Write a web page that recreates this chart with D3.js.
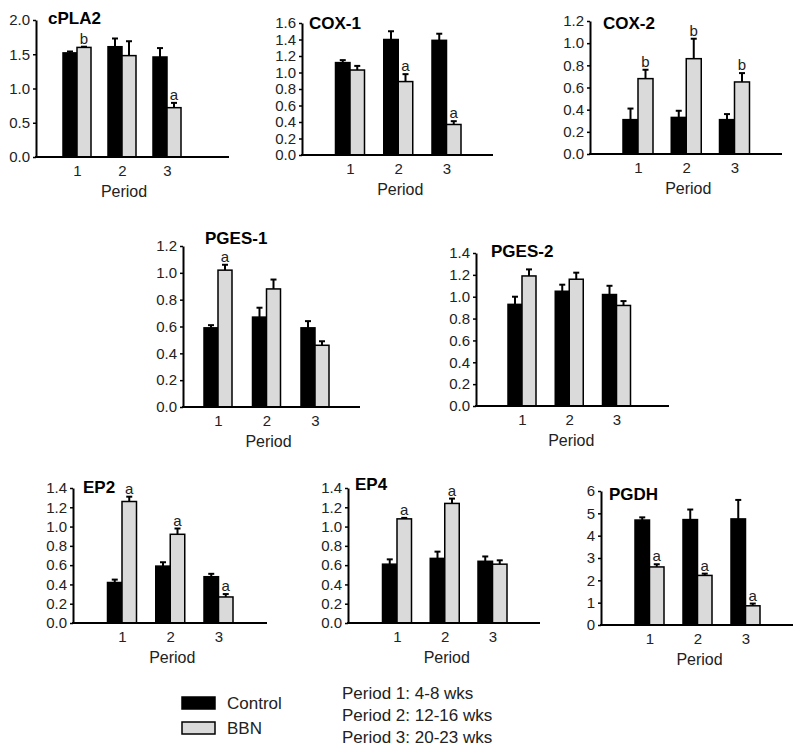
<!DOCTYPE html>
<html><head><meta charset="utf-8">
<script src="https://cdn.jsdelivr.net/npm/d3@7/dist/d3.min.js"></script>
<style>body{margin:0;background:#fff}svg{display:block}</style>
</head><body>
<svg id="c" width="800" height="752"></svg>
<script>
// ---------- data ----------
const periods = ["1", "2", "3"];
const panelNames = ["cPLA2", "COX-1", "COX-2", "PGES-1", "PGES-2", "EP2", "EP4", "PGDH"];
const controlMeans = [
  [1.52, 1.61, 1.46], [1.12, 1.40, 1.39], [0.31, 0.33, 0.31], [0.59, 0.67, 0.59],
  [0.93, 1.05, 1.02], [0.42, 0.59, 0.48], [0.61, 0.67, 0.64], [4.70, 4.72, 4.75]
];
const controlErr = [
  [0.02, 0.12, 0.13], [0.03, 0.10, 0.08], [0.10, 0.06, 0.05], [0.02, 0.07, 0.05],
  [0.07, 0.06, 0.08], [0.03, 0.04, 0.03], [0.05, 0.07, 0.05], [0.12, 0.45, 0.85]
];
const bbnMeans = [
  [1.60, 1.48, 0.72], [1.03, 0.89, 0.37], [0.68, 0.86, 0.65], [1.02, 0.88, 0.46],
  [1.19, 1.16, 0.92], [1.26, 0.92, 0.27], [1.08, 1.24, 0.61], [2.60, 2.22, 0.86]
];
const bbnErr = [
  [0.01, 0.21, 0.07], [0.05, 0.09, 0.04], [0.08, 0.18, 0.08], [0.04, 0.07, 0.03],
  [0.06, 0.06, 0.04], [0.05, 0.06, 0.03], [0.01, 0.05, 0.04], [0.12, 0.08, 0.10]
];
const bbnLetters = [
  ["b", "", "a"], ["", "a", "a"], ["b", "b", "b"], ["a", "", ""],
  ["", "", ""], ["a", "a", "a"], ["a", "a", ""], ["a", "a", "a"]
];
const yTicks = [
  [0, 0.5, 1.0, 1.5, 2.0],
  [0, 0.2, 0.4, 0.6, 0.8, 1.0, 1.2, 1.4, 1.6],
  [0, 0.2, 0.4, 0.6, 0.8, 1.0, 1.2],
  [0, 0.2, 0.4, 0.6, 0.8, 1.0, 1.2],
  [0, 0.2, 0.4, 0.6, 0.8, 1.0, 1.2, 1.4],
  [0, 0.2, 0.4, 0.6, 0.8, 1.0, 1.2, 1.4],
  [0, 0.2, 0.4, 0.6, 0.8, 1.0, 1.2, 1.4],
  [0, 1, 2, 3, 4, 5, 6]
];
const tickFormats = [".1f", ".1f", ".1f", ".1f", ".1f", ".1f", ".1f", "d"];
const seriesNames = ["Control", "BBN"];
const periodNotes = ["Period 1: 4-8 wks", "Period 2: 12-16 wks", "Period 3: 20-23 wks"];
const xTitle = "Period";

// ---------- layout (pixels) ----------
const layout = [
  {left: 36,  right: 229, y0: 157, yTop: 20,  c1: 77,  c3: 167,   bw: 14,   tx: 48,  ty: 24},
  {left: 302, right: 493, y0: 155, yTop: 23,  c1: 350, c3: 446.5, bw: 14.5, tx: 309, ty: 29},
  {left: 590, right: 782, y0: 154, yTop: 21,  c1: 638, c3: 734.5, bw: 15,   tx: 603, ty: 29},
  {left: 183, right: 360, y0: 407, yTop: 246, c1: 218, c3: 315,   bw: 14,   tx: 205, ty: 244},
  {left: 476, right: 669, y0: 406, yTop: 253, c1: 522, c3: 616.5, bw: 14,   tx: 491, ty: 257},
  {left: 73,  right: 267, y0: 623, yTop: 488, c1: 122, c3: 218.5, bw: 14.5, tx: 83,  ty: 493},
  {left: 348, right: 540, y0: 623, yTop: 488, c1: 397, c3: 492.5, bw: 14.5, tx: 355, ty: 490},
  {left: 601, right: 793, y0: 625, yTop: 491, c1: 649.5, c3: 745.5, bw: 14.5, tx: 609, ty: 500}
];
const BBN_FILL = "#dadada";
const FONT = "Liberation Sans, Arial, sans-serif";

const svg = d3.select("#c").style("font-family", FONT);

panelNames.forEach((name, i) => {
  const L = layout[i];
  const ticks = yTicks[i];
  const y = d3.scaleLinear().domain([0, ticks[ticks.length - 1]]).range([L.y0, L.yTop]);
  const x = d3.scalePoint().domain(periods).range([L.c1, L.c3]);
  const g = svg.append("g");

  const rows = periods.map((p, k) => ({p, c: controlMeans[i][k], ce: controlErr[i][k],
    b: bbnMeans[i][k], be: bbnErr[i][k], let: bbnLetters[i][k]}));

  const eb = (cx, v, e) => {
    g.append("line").attr("x1", cx).attr("x2", cx).attr("y1", y(v)).attr("y2", y(v + e))
      .attr("stroke", "#000").attr("stroke-width", 2);
    g.append("line").attr("x1", cx - 3).attr("x2", cx + 3).attr("y1", y(v + e)).attr("y2", y(v + e))
      .attr("stroke", "#000").attr("stroke-width", 2);
  };
  rows.forEach(r => {
    eb(x(r.p) - L.bw / 2, r.c, r.ce);
    eb(x(r.p) + L.bw / 2, r.b, r.be);
  });

  g.selectAll("rect.c").data(rows).join("rect")
    .attr("x", d => x(d.p) - L.bw).attr("width", L.bw)
    .attr("y", d => y(d.c)).attr("height", d => y(0) - y(d.c))
    .attr("fill", "#000").attr("stroke", "#000").attr("stroke-width", 1.5);
  g.selectAll("rect.b").data(rows).join("rect")
    .attr("x", d => x(d.p)).attr("width", L.bw)
    .attr("y", d => y(d.b)).attr("height", d => y(0) - y(d.b))
    .attr("fill", BBN_FILL).attr("stroke", "#000").attr("stroke-width", 1.5);

  g.selectAll("text.sig").data(rows.filter(r => r.let)).join("text")
    .attr("x", d => x(d.p) + L.bw / 2).attr("y", d => y(d.b + d.be) - 3)
    .attr("text-anchor", "middle").attr("font-size", 15).attr("fill", "#222")
    .text(d => d.let);

  const ya = g.append("g").attr("transform", `translate(${L.left},0)`)
    .call(d3.axisLeft(y).tickValues(ticks).tickFormat(d3.format(tickFormats[i]))
      .tickSize(3).tickSizeOuter(0).tickPadding(3));
  ya.select(".domain").attr("stroke-width", 2);
  ya.selectAll(".tick line").attr("stroke-width", 1.5);
  ya.selectAll("text").attr("font-size", 15).attr("font-family", FONT).attr("fill", "#222");

  g.append("line").attr("x1", L.left - 1).attr("x2", L.right).attr("y1", L.y0).attr("y2", L.y0)
    .attr("stroke", "#000").attr("stroke-width", 2);
  const xa = g.append("g").attr("transform", `translate(0,${L.y0})`)
    .call(d3.axisBottom(x).tickSize(0).tickPadding(8));
  xa.select(".domain").remove();
  xa.selectAll("text").attr("font-size", 15).attr("font-family", FONT).attr("fill", "#222");

  g.append("text").attr("x", (L.c1 + L.c3) / 2 + 2).attr("y", L.y0 + 40)
    .attr("text-anchor", "middle").attr("font-size", 16).attr("fill", "#222").text(xTitle);

  g.append("text").attr("x", L.tx).attr("y", L.ty).attr("font-size", 17)
    .attr("font-weight", "bold").attr("fill", "#000").text(name);
});

// legend
const lg = svg.append("g");
const fills = ["#000", BBN_FILL];
seriesNames.forEach((s, k) => {
  const yy = 697 + k * 25;
  lg.append("rect").attr("x", 182).attr("y", yy).attr("width", 33).attr("height", 12)
    .attr("fill", fills[k]).attr("stroke", "#000").attr("stroke-width", 1.5);
  lg.append("text").attr("x", 227).attr("y", yy + 12).attr("font-size", 17).attr("fill", "#222").text(s);
});
periodNotes.forEach((t, k) => {
  lg.append("text").attr("x", 342).attr("y", 699 + k * 22).attr("font-size", 17).attr("fill", "#222").text(t);
});
</script>
</body></html>
